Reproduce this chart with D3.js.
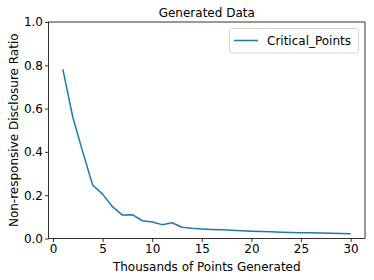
<!DOCTYPE html>
<html>
<head>
<meta charset="utf-8">
<script src="https://cdn.jsdelivr.net/npm/d3@7/dist/d3.min.js"></script>
<style>
body{margin:0;background:#fff;}
svg{display:block;}
text{font-family:"DejaVu Sans",sans-serif;fill:#000;}
</style>
</head>
<body>
<div id="chart"></div>
<script>
const xValues = [1,2,3,4,5,6,7,8,9,10,11,12,13,14,15,16,17,18,19,20,21,22,23,24,25,26,27,28,29,30];
const criticalPoints = [0.781,0.560,0.400,0.247,0.205,0.147,0.108,0.110,0.082,0.076,0.064,0.073,0.052,0.047,0.044,0.042,0.040,0.038,0.036,0.034,0.032,0.031,0.029,0.028,0.027,0.026,0.025,0.024,0.023,0.022];
const xTicks = [0,5,10,15,20,25,30];
const yTicks = [0.0,0.2,0.4,0.6,0.8,1.0];
const seriesName = "Critical_Points";
const titleText = "Generated Data";
const xLabel = "Thousands of Points Generated";
const yLabel = "Non-responsive Disclosure Ratio";

const W = 374, H = 280;
const m = {left:48.5, right:365, top:22, bottom:238.5};
const svg = d3.select("#chart").append("svg").attr("width",W).attr("height",H);

const x = d3.scaleLinear().domain([-0.45,31.45]).range([m.left,m.right]);
const y = d3.scaleLinear().domain([0,1]).range([m.bottom,m.top]);

// line
const line = d3.line().x((d,i)=>x(xValues[i])).y(d=>y(d));
svg.append("path").datum(criticalPoints)
  .attr("fill","none").attr("stroke","#1f77b4").attr("stroke-width",1.5)
  .attr("stroke-linejoin","round").attr("d",line);

// axes
const xAxis = d3.axisBottom(x).tickValues(xTicks).tickFormat(d3.format("d")).tickSize(3.5).tickPadding(2);
const yAxis = d3.axisLeft(y).tickValues(yTicks).tickFormat(d3.format(".1f")).tickSize(3.5).tickPadding(2);
const gx = svg.append("g").attr("transform",`translate(0,${m.bottom})`).call(xAxis);
const gy = svg.append("g").attr("transform",`translate(${m.left},0)`).call(yAxis);
[gx,gy].forEach(g=>{
  g.select(".domain").remove();
  g.selectAll(".tick line").attr("stroke","#000").attr("stroke-width",0.8);
  g.selectAll(".tick text").style("font-family","DejaVu Sans").style("font-size","12px").attr("fill","#000");
});

// frame
svg.append("rect").attr("x",m.left).attr("y",m.top)
  .attr("width",m.right-m.left).attr("height",m.bottom-m.top)
  .attr("fill","none").attr("stroke","#000").attr("stroke-width",0.8);

// title and labels
svg.append("text").attr("x",(m.left+m.right)/2).attr("y",m.top-5)
  .attr("text-anchor","middle").style("font-size","12px").text(titleText);
svg.append("text").attr("x",(m.left+m.right)/2).attr("y",271)
  .attr("text-anchor","middle").style("font-size","12px").text(xLabel);
svg.append("text").attr("transform",`translate(18,${(m.top+m.bottom)/2}) rotate(-90)`)
  .attr("text-anchor","middle").style("font-size","12px").text(yLabel);

// legend
const lg = svg.append("g");
lg.append("rect").attr("x",229.5).attr("y",28.5).attr("width",129).attr("height",24.5)
  .attr("rx",2).attr("fill","#fff").attr("fill-opacity",0.8).attr("stroke","#ccc").attr("stroke-width",0.8);
lg.append("line").attr("x1",234).attr("x2",258).attr("y1",40.5).attr("y2",40.5)
  .attr("stroke","#1f77b4").attr("stroke-width",1.5);
lg.append("text").attr("x",267).attr("y",45).style("font-size","12px").text(seriesName);
</script>
</body>
</html>
